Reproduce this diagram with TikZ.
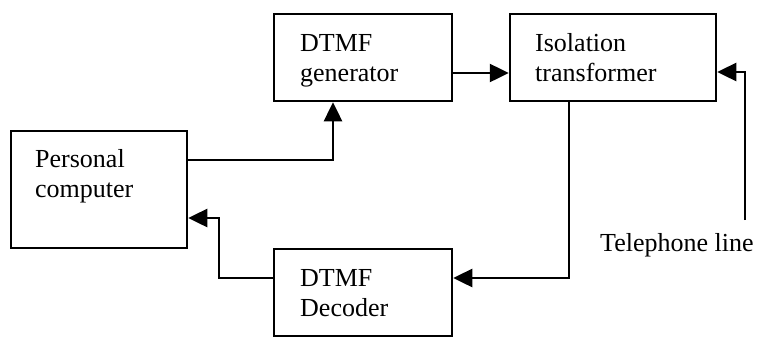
\documentclass[tikz,border=0pt]{standalone}
\usepackage{fontspec}
\setmainfont{Liberation Serif}
\usetikzlibrary{arrows.meta}
\begin{document}
\begin{tikzpicture}[x=1pt,y=-1pt,
  box/.style={draw,line width=2.5pt,rectangle,inner sep=0pt},
  lbl/.style={inner sep=0pt,anchor=base west,align=left,font=\fontsize{26}{30}\selectfont},
  conn/.style={line width=2.5pt,line join=miter,-{Triangle[length=19pt,width=18pt]}}]
\useasboundingbox (0,0) rectangle (757,338);
% boxes
\node[box,minimum width=176pt,minimum height=117pt] (pc) at (99,189.5) {};
\node[box,minimum width=178pt,minimum height=87pt] (gen) at (363,57.5) {};
\node[box,minimum width=206pt,minimum height=87pt] (iso) at (613,57.5) {};
\node[box,minimum width=178pt,minimum height=87pt] (dec) at (363,292.5) {};
% texts (anchor is the baseline of the last line)
\node[lbl] (pct) at (35,197) {Personal\\computer};
\node[lbl] (gent) at (300,81) {DTMF\\generator};
\node[lbl] (isot) at (535,81) {Isolation\\transformer};
\node[lbl] (dect) at (300,316) {DTMF\\Decoder};
\node[lbl] (tel) at (600,251) {Telephone line};
\coordinate (telend) at (745,220);
\coordinate (bend) at ([xshift=30.5pt,yshift=-28.5pt]pc.east);
% connectors
\draw[conn] ([yshift=29.5pt]pc.east) -| ([xshift=-30pt]gen.south);
\draw[conn] ([yshift=-15.5pt]gen.east) -- ([yshift=-15.5pt]iso.west);
\draw[conn] ([xshift=-44pt]iso.south) |- ([yshift=14.5pt]dec.east);
\draw[conn] ([yshift=14.5pt]dec.west) -| (bend) -- ([yshift=-28.5pt]pc.east);
\draw[conn] (telend) |- ([yshift=-14.5pt]iso.east);
\end{tikzpicture}
\end{document}
